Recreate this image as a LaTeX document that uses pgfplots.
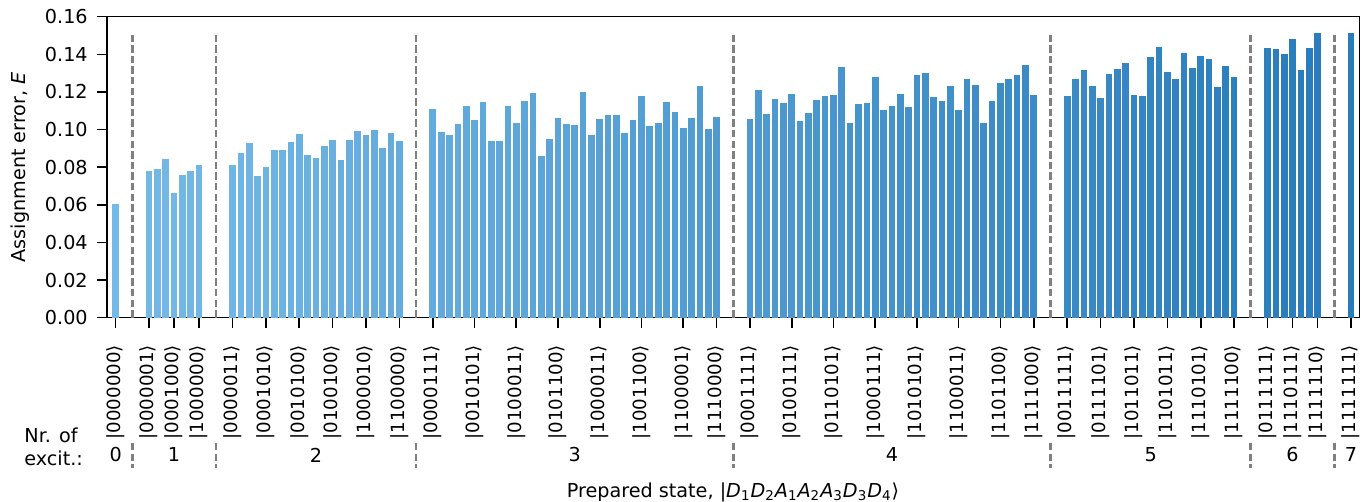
\documentclass[border=0pt]{standalone}
\usepackage{fontspec}
\setmainfont{DejaVu Sans}
\usepackage{pgfplots}
\usepackage{pgfplotstable}
\pgfplotsset{compat=1.18}
\definecolor{cA}{RGB}{117,185,230}
\definecolor{cB}{RGB}{40,124,187}
\definecolor{sepc}{RGB}{128,128,128}
\newcommand\ket[1]{|#1⟩}

\pgfplotstableread{
pos val
0 0.0604
4 0.0780
5 0.0791
6 0.0844
7 0.0663
8 0.0759
9 0.0780
10 0.0812
14 0.0812
15 0.0876
16 0.0929
17 0.0753
18 0.0801
19 0.0892
20 0.0892
21 0.0934
22 0.0977
23 0.0865
24 0.0849
25 0.0913
26 0.0945
27 0.0838
28 0.0945
29 0.0993
30 0.0971
31 0.0998
32 0.0902
33 0.0982
34 0.0939
38 0.1110
39 0.0987
40 0.0971
41 0.1030
42 0.1126
43 0.1051
44 0.1147
45 0.0939
46 0.0939
47 0.1126
48 0.1035
49 0.1152
50 0.1195
51 0.0860
52 0.0950
53 0.1062
54 0.1030
55 0.1024
56 0.1200
57 0.0971
58 0.1056
59 0.1078
60 0.1078
61 0.0982
62 0.1051
63 0.1179
64 0.1019
65 0.1035
66 0.1147
67 0.1094
68 0.1009
69 0.1062
70 0.1232
71 0.1003
72 0.1067
76 0.1056
77 0.1211
78 0.1083
79 0.1163
80 0.1142
81 0.1190
82 0.1046
83 0.1088
84 0.1158
85 0.1179
86 0.1184
87 0.1333
88 0.1035
89 0.1136
90 0.1142
91 0.1280
92 0.1104
93 0.1126
94 0.1190
95 0.1120
96 0.1290
97 0.1301
98 0.1174
99 0.1152
100 0.1232
101 0.1104
102 0.1269
103 0.1237
104 0.1035
105 0.1152
106 0.1248
107 0.1269
108 0.1290
109 0.1344
110 0.1184
114 0.1179
115 0.1269
116 0.1317
117 0.1232
118 0.1168
119 0.1296
120 0.1322
121 0.1355
122 0.1184
123 0.1179
124 0.1387
125 0.1439
126 0.1306
127 0.1269
128 0.1407
129 0.1328
130 0.1391
131 0.1375
132 0.1226
133 0.1339
134 0.1280
138 0.1434
139 0.1429
140 0.1402
141 0.1482
142 0.1317
143 0.1434
144 0.1514
148 0.1514
}\data

\pgfplotsforeachungrouped \i in {0,...,127}{%
  \pgfmathtruncatemacro\pct{round(\i*100/127)}%
  \colorlet{bar\i}{cB!\pct!cA}%
}

\begin{document}
\fontsize{9.6pt}{11.5pt}\selectfont
\begin{tikzpicture}
\begin{axis}[
  at={(0,0)}, anchor=south west,
  scale only axis,
  width=626pt, height=150.5pt,
  xmin=-1, xmax=149, ymin=0, ymax=0.16,
  clip=false,
  axis line style={line width=0.8pt, black},
  tick style={line width=0.8pt, black},
  major tick length=5pt,
  tick align=outside,
  xtick pos=bottom, ytick pos=left,
  ytick={0,0.02,...,0.16},
  y tick label style={/pgf/number format/fixed, /pgf/number format/fixed zerofill, /pgf/number format/precision=2, /pgf/number format/assume math mode=true},
  xtick={0,4,7,10,14,18,22,26,30,34,38,43,48,53,58,63,68,72,76,81,86,91,96,101,106,110,114,118,122,126,130,134,138,141,144,148},
  xticklabels={\ket{0000000},\ket{0000001},\ket{0001000},\ket{1000000},
    \ket{0000011},\ket{0001010},\ket{0010100},\ket{0100100},\ket{1000010},\ket{1100000},
    \ket{0000111},\ket{0010101},\ket{0100011},\ket{0101100},\ket{1000011},\ket{1001100},\ket{1100001},\ket{1110000},
    \ket{0001111},\ket{0100111},\ket{0110101},\ket{1000111},\ket{1010101},\ket{1100011},\ket{1101100},\ket{1111000},
    \ket{0011111},\ket{0111101},\ket{1011011},\ket{1101011},\ket{1110101},\ket{1111100},
    \ket{0111111},\ket{1110111},\ket{1111110},\ket{1111111}},
  xticklabel style={yshift=-8.5pt, rotate=90, anchor=east, inner sep=0pt, font=\fontsize{9.1pt}{11pt}\selectfont},
  yticklabel style={inner sep=0pt, xshift=-4.6pt},
]
\pgfplotsinvokeforeach{0,...,127}{
  \addplot[ybar, bar shift=0pt, bar width=0.8, fill=bar#1, draw=none]
    table[x=pos, y=val, restrict expr to domain={\coordindex}{#1:#1}] {\data};
}
\pgfplotsinvokeforeach{2,12,36,74,112,136,146}{
  \addplot[sepc, line width=1.3pt, dash pattern=on 3.7pt off 1.6pt] coordinates {(#1,0) (#1,0.1514)};
  \draw[sepc, line width=1.3pt, dash pattern=on 3.7pt off 1.6pt] (axis cs:#1,0) ++(0pt,-62.65pt) -- ++(0pt,-12.5pt);
}
\node at (axis cs:0,0) [yshift=-68.65pt] {0};
\node at (axis cs:7,0) [yshift=-68.65pt] {1};
\node at (axis cs:24,0) [yshift=-68.65pt] {2};
\node at (axis cs:55,0) [yshift=-68.65pt] {3};
\node at (axis cs:93,0) [yshift=-68.65pt] {4};
\node at (axis cs:124,0) [yshift=-68.65pt] {5};
\node at (axis cs:141,0) [yshift=-68.65pt] {6};
\node at (axis cs:148,0) [yshift=-68.65pt] {7};
\end{axis}
\node[anchor=west, align=left, inner sep=0pt] at (-41.65pt,-64.4pt) {Nr. of\\excit.:};
\node[rotate=90] at (-43.65pt,75.25pt) {Assignment error, \textit{E}};
\node at (312.85pt,-87.15pt) {Prepared state, |\textit{D}\textsubscript{1}\textit{D}\textsubscript{2}\textit{A}\textsubscript{1}\textit{A}\textsubscript{2}\textit{A}\textsubscript{3}\textit{D}\textsubscript{3}\textit{D}\textsubscript{4}⟩};
\pgfresetboundingbox
\path[use as bounding box] (-53.65pt,-92.15pt) rectangle (632.35pt,158.85pt);
\end{tikzpicture}
\end{document}
